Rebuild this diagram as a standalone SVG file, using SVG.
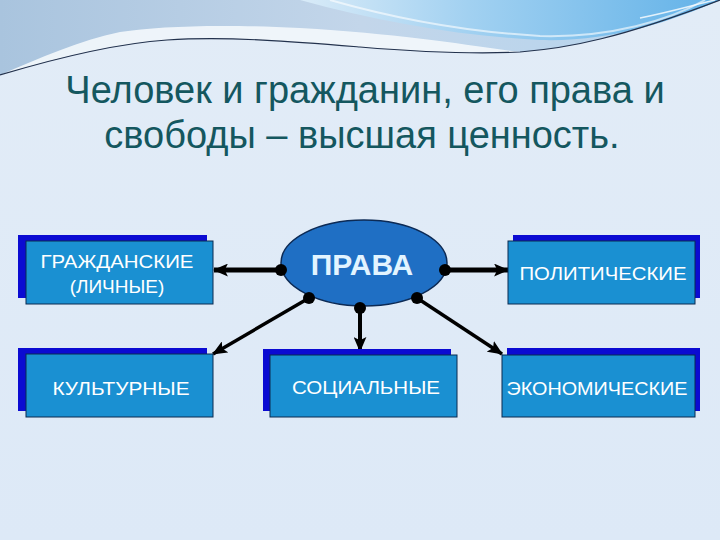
<svg xmlns="http://www.w3.org/2000/svg" width="720" height="540" viewBox="0 0 720 540">
  <defs>
    <linearGradient id="bg" x1="0" y1="0" x2="0" y2="1">
      <stop offset="0" stop-color="#e2ecf7"/>
      <stop offset="1" stop-color="#dde9f7"/>
    </linearGradient>
    <linearGradient id="topband" x1="0" y1="0" x2="1" y2="0">
      <stop offset="0" stop-color="#a9c4de"/>
      <stop offset="0.5" stop-color="#c3d6ea"/>
      <stop offset="1" stop-color="#b4d4ee"/>
    </linearGradient>
    <linearGradient id="blueswoosh" x1="0" y1="0" x2="1" y2="0">
      <stop offset="0" stop-color="#d9ebf8"/>
      <stop offset="0.4" stop-color="#a2d1f1"/>
      <stop offset="1" stop-color="#62b2e8"/>
    </linearGradient>
    <marker id="arr" viewBox="0 0 14 12" refX="13" refY="6" markerWidth="15" markerHeight="13" markerUnits="userSpaceOnUse" orient="auto">
      <path d="M0,0 L14,6 L0,12 L3,6 Z" fill="#000"/>
    </marker>
    <style>
      .back { fill: #0b0bd2; }
      .front { fill: #1a90d2; stroke: #0a2a50; stroke-width: 1; }
      .lbl { font-family: "Liberation Sans", Arial, sans-serif; font-size: 19px; fill: #ffffff; text-anchor: middle; }
      .title { font-family: "Liberation Sans", Arial, sans-serif; font-size: 38px; fill: #14575f; text-anchor: middle; }
      .conn { stroke: #000; fill: none; }
      .dot { fill: #000; }
    </style>
  </defs>

  <!-- background -->
  <rect x="0" y="0" width="720" height="540" fill="url(#bg)"/>
  <path d="M0,0 H720 L720,0 C620,38 570,48 520,52 C480,54 420,52 360,47 C300,42 230,36 167,40 C110,44 50,60 0,75 Z" fill="url(#topband)"/>
  <path d="M0,75 C50,60 110,44 167,40 C230,36 300,42 360,47 C420,52 480,54 520,52 C460,44 400,34 300,28 C220,24 160,26 120,32 C80,40 40,58 0,75 Z" fill="#f4f8fc" opacity="0.9"/>
  <path d="M300,0 C380,22 460,36 540,40 C610,42 670,22 720,0 Z" fill="url(#blueswoosh)"/>
  <path d="M0,75 C50,60 110,44 167,40 C230,36 300,42 360,47 C420,52 480,54 520,52 C570,48 620,38 720,0" fill="none" stroke="#23324d" stroke-width="1.2"/>
  <path d="M330,0 C400,20 470,32 540,36 C610,38 670,20 705,0" fill="none" stroke="#ffffff" stroke-width="2" opacity="0.6"/>
  <path d="M640,18 C670,12 690,6 715,0" fill="none" stroke="#ffffff" stroke-width="1.5" opacity="0.8"/>

  <!-- title -->
  <g id="title">
    <text class="title" x="365" y="103">Человек и гражданин, его права и</text>
    <text class="title" x="362" y="148">свободы – высшая ценность.</text>
  </g>

  <!-- connectors -->
  <g id="connectors">
    <line class="conn" x1="281" y1="270" x2="214" y2="270" stroke-width="5" marker-end="url(#arr)"/>
    <line class="conn" x1="445" y1="270" x2="508" y2="270" stroke-width="5" marker-end="url(#arr)"/>
    <line class="conn" x1="360" y1="308" x2="360" y2="351" stroke-width="4" marker-end="url(#arr)"/>
    <line class="conn" x1="309" y1="298" x2="213" y2="354" stroke-width="3.5" marker-end="url(#arr)"/>
    <line class="conn" x1="417" y1="298" x2="502" y2="354" stroke-width="3.5" marker-end="url(#arr)"/>
  </g>

  <!-- center node -->
  <g id="node-prava">
    <ellipse cx="364" cy="263" rx="83" ry="43" fill="#1f6fc4" stroke="#0c2a55" stroke-width="1.5"/>
    <text x="362" y="275" font-family="'Liberation Sans', Arial, sans-serif" font-size="30" font-weight="bold" fill="#e2f4ff" text-anchor="middle">ПРАВА</text>
    <circle class="dot" cx="281" cy="270" r="6"/>
    <circle class="dot" cx="445" cy="270" r="6"/>
    <circle class="dot" cx="309" cy="298" r="6"/>
    <circle class="dot" cx="360" cy="308" r="6"/>
    <circle class="dot" cx="417" cy="298" r="6"/>
  </g>

  <g id="node-grazhdanskie">
    <rect class="back" x="18" y="235" width="189" height="63"/>
    <rect class="front" x="26" y="241" width="187" height="63"/>
    <text class="lbl" x="117" y="268" textLength="153" lengthAdjust="spacingAndGlyphs">ГРАЖДАНСКИЕ</text>
    <text class="lbl" x="117" y="293">(ЛИЧНЫЕ)</text>
  </g>

  <g id="node-kulturnye">
    <rect class="back" x="18" y="348" width="189" height="63"/>
    <rect class="front" x="26" y="354" width="187" height="63"/>
    <text class="lbl" x="121" y="395" textLength="137" lengthAdjust="spacingAndGlyphs">КУЛЬТУРНЫЕ</text>
  </g>

  <g id="node-socialnye">
    <rect class="back" x="263" y="349" width="188" height="62"/>
    <rect class="front" x="270" y="355" width="187" height="62"/>
    <text class="lbl" x="366" y="394" textLength="148" lengthAdjust="spacingAndGlyphs">СОЦИАЛЬНЫЕ</text>
  </g>

  <g id="node-politicheskie">
    <rect class="back" x="513" y="235" width="187" height="63"/>
    <rect class="front" x="508" y="241" width="187" height="63"/>
    <text class="lbl" x="603" y="280" textLength="167" lengthAdjust="spacingAndGlyphs">ПОЛИТИЧЕСКИЕ</text>
  </g>

  <g id="node-ekonomicheskie">
    <rect class="back" x="507" y="348" width="193" height="63"/>
    <rect class="front" x="502" y="355" width="193" height="62"/>
    <text class="lbl" x="597" y="395" textLength="181" lengthAdjust="spacingAndGlyphs">ЭКОНОМИЧЕСКИЕ</text>
  </g>
</svg>
